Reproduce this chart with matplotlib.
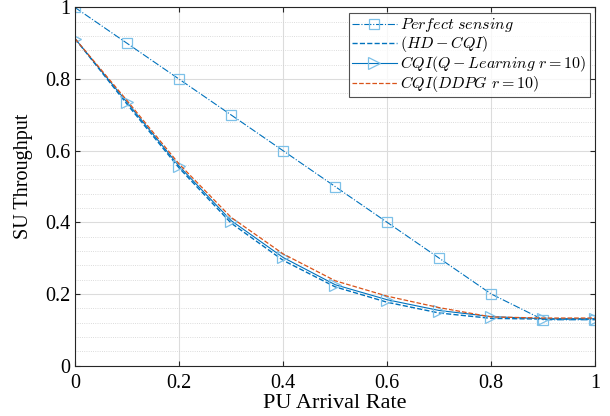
import matplotlib
matplotlib.use("Agg")
import matplotlib.pyplot as plt
from matplotlib.ticker import MultipleLocator

# ── datos ─────────────────────────────────────────────────────────────────
arrival_rate = [0.0, 0.1, 0.2, 0.3, 0.4, 0.5, 0.6, 0.7, 0.8, 0.9, 1.0]
perfect = [1.0, 0.9, 0.8, 0.7, 0.6, 0.5, 0.4, 0.3, 0.2, 0.128, 0.128]
hd_cqi = [0.913, 0.73, 0.552, 0.398, 0.294, 0.22, 0.177, 0.147, 0.132, 0.13, 0.13]
q_learning = [0.913, 0.735, 0.557, 0.405, 0.302, 0.226, 0.184, 0.154, 0.137, 0.131, 0.131]
ddpg = [0.913, 0.74, 0.563, 0.414, 0.312, 0.237, 0.194, 0.162, 0.136, 0.133, 0.133]

tick_vals = [0, 0.2, 0.4, 0.6, 0.8, 1.0]
tick_text = ["0", "0.2", "0.4", "0.6", "0.8", "1"]

labels = [r"$Perfect\ sensing$", r"$(HD-CQI)$",
          r"$CQI(Q-Learning\ r=10)$", r"$CQI(DDPG\ r=10)$"]

blue = "#0072BD"
light = "#7CC0E8"
orange = "#D95319"

plt.rcParams["font.family"] = ["Liberation Serif", "DejaVu Serif"]
plt.rcParams["mathtext.fontset"] = "cm"

fig = plt.figure(figsize=(6.1, 4.16), dpi=100)
ax = fig.add_axes([0.123, 0.121, 0.853, 0.861])

ax.plot(arrival_rate, perfect, "-.", color=blue, lw=0.8, marker="s", ms=7,
        mfc="none", mec=light, mew=0.9, label=labels[0])
ax.plot(arrival_rate, hd_cqi, "--", color=blue, lw=1.0, label=labels[1])
ax.plot(arrival_rate, q_learning, "-", color=blue, lw=0.8, marker=">", ms=8,
        mfc="none", mec=light, mew=0.9, label=labels[2])
ax.plot(arrival_rate, ddpg, "--", color=orange, lw=0.9, label=labels[3])

ax.set_xlim(0, 1)
ax.set_ylim(0, 1)
ax.set_xticks(tick_vals, tick_text)
ax.set_yticks(tick_vals, tick_text)
ax.yaxis.set_minor_locator(MultipleLocator(0.04))
ax.tick_params(which="both", direction="in", top=True, right=True,
               labelsize=14.5, color="#262626")
ax.tick_params(axis="x", pad=6)
ax.tick_params(which="minor", length=0)
ax.grid(which="major", color="#dcdcdc", lw=0.8)
ax.grid(which="minor", axis="y", color="#d0d0d0", lw=0.6, ls=":")
for s in ax.spines.values():
    s.set_color("#262626")
    s.set_linewidth(0.8)

ax.set_xlabel("PU Arrival Rate", fontsize=16, labelpad=1)
ax.set_ylabel("SU Throughput", fontsize=14.5)
ax.yaxis.set_label_coords(-0.08, 0.53)

leg = ax.legend(loc="upper right", fontsize=11.5, frameon=True, fancybox=False,
                borderpad=0.2, labelspacing=0.0, handlelength=2.8,
                handletextpad=0.2, borderaxespad=0.35)
leg.get_frame().set_edgecolor("#262626")
leg.get_frame().set_linewidth(0.8)

fig.savefig("out.png", dpi=100)
plt.close(fig)
